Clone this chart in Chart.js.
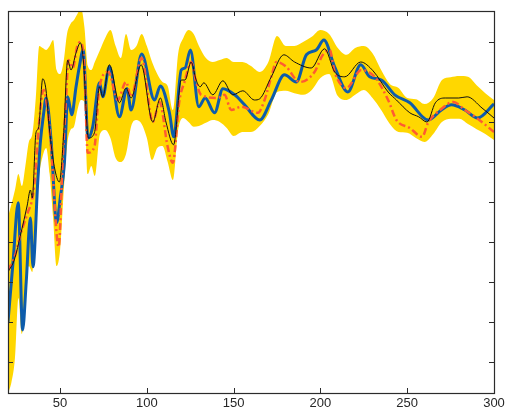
<!DOCTYPE html>
<html>
<head>
<meta charset="utf-8">
<script src="https://cdn.jsdelivr.net/npm/chart.js@4.4.1/dist/chart.umd.min.js"></script>
<style>
  html, body { margin: 0; padding: 0; background: #fff; }
  #wrap { width: 505px; height: 411px; position: relative; }
</style>
</head>
<body>
<div id="wrap"><canvas id="c"></canvas></div>
<script>
// ---- data ----
const xTicks = [50, 100, 150, 200, 250, 300];
const yTicks = [1, 2, 3, 4, 5, 6, 7, 8, 9];

const bandX = [20,22,24,26,28,30,32,34,36,38,40,42,44,46,48,50,52,54,56,58,60,62,64,66,68,70,73,76,79,82,85,88,91,94,97,100,103,106,109,112,115,118,121,124,127,130,134,138,142,146,150,155,160,165,170,175,180,185,190,195,200,205,210,215,220,225,230,235,240,245,250,255,260,265,270,275,280,285,290,295,300];
const bandUpper = [4.63,4.95,5.3,5.7,5.4,5.9,6.5,6.7,7.6,8.9,8.85,8.8,8.9,9.05,8.3,8.2,8.5,9.2,9.45,9.55,9.7,9.85,9.38,8.4,8.3,8.5,8.8,9.1,9.3,8.9,8.6,9.2,8.8,8.9,9.2,8.9,8.5,8.2,8.0,7.9,7.3,8.7,9.1,9.3,9.2,8.9,8.6,8.5,8.55,8.6,8.5,8.5,8.4,8.25,8.5,9.15,8.9,8.9,9.0,9.13,9.3,9.2,8.85,8.68,8.85,8.9,8.72,8.3,7.95,7.85,7.6,7.57,7.45,7.6,8.05,8.12,8.15,8.13,7.92,7.72,7.55];
const bandLower = [0.2,0.5,1.1,2.6,1.7,2.9,3.4,3.25,4.8,5.7,6.15,6.35,5.7,4.6,3.4,3.8,5.2,6.4,6.8,6.88,7.3,7.55,7.5,5.7,5.9,5.65,6.7,6.8,6.6,6.1,6.0,6.2,6.9,7.05,6.95,6.6,6.05,6.35,6.4,6.0,5.55,6.8,7.1,7.0,6.88,6.9,6.98,7.05,7.0,6.85,6.65,6.75,6.75,6.9,7.2,7.75,7.78,7.72,7.68,7.8,8.1,8.2,7.65,7.55,7.68,7.8,7.6,7.3,6.95,6.75,6.73,6.6,6.5,6.7,7.0,7.08,7.08,6.95,6.82,6.7,6.55];

const blackX = [20,23.6,27.5,31,32.9,34,36.1,37.6,40,41.9,43.8,46.7,49.6,52.1,54.4,56.3,59.2,61.7,63.5,66.3,69.8,72.7,74.6,78.4,84.2,88,90.9,96.7,103.4,107.8,111,115.4,119.8,122,125.5,128.4,130.7,132.8,138,143.8,149.5,155.3,162,165,171.7,178.9,185.1,194.7,202.4,208.2,214,223.2,230.3,239,243.8,251.5,256.6,261.4,266.2,271.9,279.7,284.5,293.1,300];
const blackY = [3.25,3.55,4.23,4.9,5.3,5.1,6.73,6.85,8.08,7.8,6.85,5.88,5.5,6.73,8.55,8.3,8.73,8.98,8.5,6.6,6.73,7.88,7.63,8.43,7.48,7.85,7.6,8.43,7.0,7.6,7.0,6.43,8.05,8.05,8.5,8.05,7.88,7.98,7.68,8.03,7.68,7.78,7.55,7.58,8.13,8.68,8.5,8.35,8.83,8.25,8.13,8.5,8.28,7.75,7.55,7.23,7.13,7.0,7.48,7.6,7.6,7.63,7.35,7.1];

const blueX = [20,22.9,25.9,28.4,30.5,32.9,34.4,37.1,38.6,40.5,41.9,44.8,48,50.2,52.5,54.4,56.7,59.2,61.1,63.3,66.1,68.8,72.7,74.6,78.4,84.2,88.6,90.9,97,104.4,107.8,113,115.5,119.8,122,125.1,129.9,133.6,139,143.8,150.6,156.3,165,171.7,179.3,186.1,191.9,197.6,202,208.2,215.8,223.2,228.4,235.1,242.8,251.5,262,269.7,275.5,283.2,290.5,300];
const blueY = [2.0,3.5,4.98,1.8,3.0,4.6,3.38,5.48,6.48,7.2,7.6,6.55,4.48,5.13,5.98,7.63,7.18,7.88,8.38,8.8,6.6,6.88,7.98,7.63,8.38,7.13,7.83,7.3,8.7,7.55,7.9,7.23,6.63,8.3,8.35,8.8,7.38,7.6,7.23,7.83,7.68,7.43,7.05,7.55,8.18,8.0,8.68,8.8,9.05,8.38,7.75,8.43,8.13,8.05,7.68,7.48,7.05,7.3,7.43,7.3,7.1,7.45];

const redX = [20,23.6,27.5,31.3,34.2,36.1,37.1,40.5,42.8,44.8,49.2,51.5,53.4,54.8,57.3,59.8,61.7,64,65.9,69.8,72.7,77.8,83.2,88,90.9,97,103.4,107.3,112,114.9,118.8,121.7,125.5,128.4,131.3,140.9,144.7,148.6,154.4,164,167.8,171.7,174.6,180.3,188,196.6,201.4,205.3,208.2,214.9,223.6,231.2,239,243.8,251.5,258.6,262,268.9,276.6,283.2,290.1,300];
const redY = [3.3,3.6,4.23,4.73,5.13,5.88,6.55,7.8,7.3,6.38,3.88,6.05,7.55,8.55,8.35,8.88,9.0,8.38,6.23,6.38,7.88,8.25,7.55,8.0,7.63,8.6,7.0,7.5,6.38,5.98,7.55,8.0,8.5,8.0,7.68,7.6,7.68,7.3,7.38,7.23,7.55,8.13,8.5,8.38,8.0,8.25,8.68,8.8,8.25,7.85,8.3,8.13,7.55,7.05,6.85,6.63,6.98,7.3,7.5,7.3,7.1,6.75];

// ---- build ----
const pts = (xs, ys) => xs.map((x, i) => ({ x: x, y: ys[i] }));
const AXIS = '#2b2b2b';

const boxTicks = {
  id: 'boxTicks',
  afterDraw(chart) {
    const { ctx, chartArea: a, scales } = chart;
    const L = 5;
    ctx.save();
    ctx.strokeStyle = AXIS;
    ctx.lineWidth = 1;
    ctx.beginPath();
    xTicks.forEach(v => {
      const px = Math.round(scales.x.getPixelForValue(v)) + 0.5;
      ctx.moveTo(px, a.bottom); ctx.lineTo(px, a.bottom - L);
      ctx.moveTo(px, a.top); ctx.lineTo(px, a.top + L);
    });
    yTicks.forEach(v => {
      const py = Math.round(scales.y.getPixelForValue(v)) + 0.5;
      ctx.moveTo(a.left, py); ctx.lineTo(a.left + L, py);
      ctx.moveTo(a.right, py); ctx.lineTo(a.right - L, py);
    });
    ctx.stroke();
    ctx.lineWidth = 1.2;
    ctx.strokeRect(Math.round(a.left) + 0.5, Math.round(a.top) + 0.5,
                   Math.round(a.right - a.left), Math.round(a.bottom - a.top));
    ctx.restore();
  }
};

const common = { pointRadius: 0, pointHoverRadius: 0, cubicInterpolationMode: 'monotone' };

new Chart(document.getElementById('c'), {
  type: 'line',
  data: {
    datasets: [
      Object.assign({ label: 'mean', data: pts(blackX, blackY), borderColor: '#111111', borderWidth: 1, fill: false, order: 0 }, common),
      Object.assign({ label: 'estimate', data: pts(redX, redY), borderColor: '#FF5A32', borderWidth: 2.5, borderDash: [7, 3, 2, 3], fill: false, order: 1 }, common),
      Object.assign({ label: 'signal', data: pts(blueX, blueY), borderColor: '#0D5CAB', borderWidth: 3, fill: false, order: 2 }, common),
      Object.assign({ label: 'upper', data: pts(bandX, bandUpper), borderColor: 'rgba(0,0,0,0)', borderWidth: 0, backgroundColor: '#FFD700', fill: '+1', order: 3 }, common),
      Object.assign({ label: 'lower', data: pts(bandX, bandLower), borderColor: 'rgba(0,0,0,0)', borderWidth: 0, fill: false, order: 4 }, common)
    ]
  },
  options: {
    responsive: true,
    maintainAspectRatio: false,
    animation: false,
    events: [],
    layout: { padding: { left: 8, top: 11, right: 11, bottom: 0 } },
    plugins: { legend: { display: false }, tooltip: { enabled: false } },
    scales: {
      x: {
        type: 'linear', min: 20, max: 300,
        afterBuildTicks: s => { s.ticks = xTicks.map(v => ({ value: v })); },
        afterFit: s => { s.height = 18; s.paddingRight = 0; s.paddingLeft = 0; },
        grid: { display: false, drawTicks: false },
        border: { display: false },
        ticks: { color: '#262626', font: { family: "Arial, 'Liberation Sans', Helvetica, sans-serif", size: 13, lineHeight: 1.1 }, padding: 3, maxRotation: 0, autoSkip: false }
      },
      y: {
        type: 'linear', min: 0.225, max: 9.775, display: false
      }
    }
  },
  plugins: [boxTicks]
});
</script>
</body>
</html>
